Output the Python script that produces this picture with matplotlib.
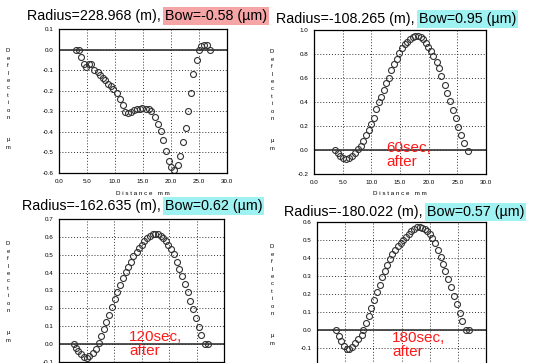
import matplotlib
matplotlib.use("Agg")
import matplotlib.pyplot as plt

plt.rcParams['font.family'] = ['Liberation Sans', 'DejaVu Sans']

W, H = 533, 363

# panel 1: before
x1 = [3.1, 3.5, 4.0, 4.5, 4.9, 5.3, 5.8, 6.3, 6.9, 7.3, 7.8, 8.2, 8.7, 9.2, 9.7, 10.3,
      10.9, 11.4, 11.8, 12.4, 12.9, 13.4, 14.0, 14.5, 14.9, 15.5, 16.0, 16.5, 17.1, 17.7,
      18.2, 18.6, 19.1, 19.6, 20.0, 20.6, 21.2, 21.6, 22.1, 22.6, 23.1, 23.6, 24.0, 24.6,
      25.0, 25.4, 25.9, 26.5, 27.0]
y1 = [0.0, 0.0, -0.036, -0.07, -0.085, -0.07, -0.07, -0.1, -0.11, -0.125, -0.14, -0.15,
      -0.165, -0.175, -0.19, -0.21, -0.24, -0.27, -0.305, -0.31, -0.305, -0.295, -0.29,
      -0.287, -0.285, -0.287, -0.29, -0.3, -0.33, -0.36, -0.395, -0.44, -0.495, -0.54,
      -0.57, -0.585, -0.56, -0.515, -0.45, -0.38, -0.3, -0.21, -0.12, -0.05, -0.003,
      0.016, 0.023, 0.02, -0.003]

# panel 2: 60 sec after
x2 = [3.6, 4.1, 4.55, 5.1, 5.6, 6.1, 6.65, 7.1, 7.65, 8.15, 8.6, 9.1, 9.6, 9.9, 10.4,
      10.8, 11.3, 11.7, 12.2, 12.6, 13.1, 13.5, 14.0, 14.4, 14.9, 15.4, 15.8, 16.2, 16.7,
      17.2, 17.6, 18.1, 18.6, 19.0, 19.5, 19.97, 20.4, 20.8, 21.4, 21.8, 22.2, 22.8, 23.2,
      23.7, 24.2, 24.7, 25.2, 25.6, 26.2, 26.85]
y2 = [0.0, -0.028, -0.047, -0.067, -0.078, -0.067, -0.05, -0.022, 0.006, 0.036, 0.072,
      0.122, 0.167, 0.214, 0.264, 0.339, 0.397, 0.444, 0.503, 0.556, 0.597, 0.664, 0.714,
      0.761, 0.806, 0.853, 0.883, 0.903, 0.925, 0.939, 0.95, 0.95, 0.942, 0.925, 0.894,
      0.861, 0.825, 0.783, 0.731, 0.681, 0.614, 0.544, 0.472, 0.406, 0.336, 0.264, 0.192,
      0.122, 0.056, -0.006]

# panel 3: 120 sec after
x3 = [2.7, 3.1, 3.5, 4.0, 4.5, 5.0, 5.5, 6.1, 6.7, 7.2, 7.6, 8.1, 8.6, 9.1, 9.6, 10.1,
      10.6, 11.1, 11.6, 12.1, 12.6, 13.1, 13.5, 14.1, 14.6, 15.1, 15.5, 16.0, 16.5, 17.0,
      17.5, 18.0, 18.5, 18.9, 19.4, 19.9, 20.4, 20.9, 21.4, 21.9, 22.4, 22.9, 23.4, 23.9,
      24.4, 24.9, 25.4, 25.9, 26.5, 27.0]
y3 = [0.0, -0.02, -0.04, -0.056, -0.071, -0.077, -0.066, -0.049, -0.028, 0.007, 0.047,
      0.082, 0.124, 0.161, 0.21, 0.255, 0.294, 0.331, 0.369, 0.404, 0.434, 0.462, 0.492,
      0.515, 0.535, 0.556, 0.576, 0.593, 0.604, 0.614, 0.618, 0.614, 0.606, 0.593, 0.576,
      0.556, 0.534, 0.502, 0.462, 0.423, 0.38, 0.337, 0.292, 0.243, 0.195, 0.147, 0.098,
      0.049, 0.0, 0.0]

# panel 4: 180 sec after
x4 = [3.4, 3.85, 4.3, 4.8, 5.3, 5.7, 6.2, 6.7, 7.2, 7.9, 8.2, 8.7, 9.2, 9.6, 10.1, 10.6,
      11.1, 11.5, 12.0, 12.5, 12.96, 13.4, 13.9, 14.4, 14.85, 15.3, 15.8, 16.3, 16.7, 17.2,
      17.7, 18.2, 18.6, 19.1, 19.6, 20.1, 20.5, 21.0, 21.5, 21.95, 22.4, 22.8, 23.3, 23.8,
      24.3, 24.8, 25.3, 25.8, 26.4, 27.0]
y4 = [0.0, -0.032, -0.061, -0.087, -0.106, -0.106, -0.093, -0.074, -0.052, -0.028, 0.0,
      0.037, 0.08, 0.123, 0.165, 0.21, 0.251, 0.292, 0.329, 0.362, 0.394, 0.423, 0.446,
      0.468, 0.485, 0.501, 0.518, 0.535, 0.55, 0.561, 0.57, 0.572, 0.568, 0.561, 0.548,
      0.531, 0.511, 0.485, 0.446, 0.407, 0.366, 0.329, 0.284, 0.238, 0.19, 0.145, 0.097,
      0.05, 0.0, 0.0]

radius = ["228.968", "-108.265", "-162.635", "-180.022"]
bow = ["-0.58", "0.95", "0.62", "0.57"]
notes = [None, "60sec,\nafter", "120sec,\nafter", "180sec,\nafter"]
ylims = [(-0.6, 0.1), (-0.2, 1.0), (-0.1, 0.7), (-0.2, 0.6)]
yticks_lo = [-0.6, -0.2, -0.1, -0.1]
ysteps = [0.1, 0.2, 0.1, 0.1]

# pixel boxes: left, right, top, bottom
boxes = [(59, 227, 29, 173), (314, 486, 30, 174), (59, 224, 219, 362), (317, 486, 222, 366)]
titles_at = [(163, 16), (417, 19), (163, 206), (425, 212)]
hl_colors = ["#f5a5a5", "#9ff2f2", "#9ff2f2", "#9ff2f2"]
ylab_x = [8, 272, 8, 272]
note_at = [None, (386, 141), (129, 330), (392, 331)]

fig = plt.figure(figsize=(W / 100, H / 100), dpi=100)
data = [(x1, y1), (x2, y2), (x3, y3), (x4, y4)]

for i, (xs, ys) in enumerate(data):
    l, r, t, b = boxes[i]
    ax = fig.add_axes([l / W, 1 - b / H, (r - l) / W, (b - t) / H])
    ax.plot(xs, ys, 'o', mfc='none', mec='#333333', ms=4.3, mew=0.8)
    ax.axhline(0, color='#222222', lw=1.1, zorder=0)
    lo, hi = ylims[i]
    ax.set_xlim(0, 30)
    ax.set_ylim(lo, hi)
    n = int(round((hi - yticks_lo[i]) / ysteps[i]))
    yt = [round(yticks_lo[i] + k * ysteps[i], 2) for k in range(n + 1)]
    ax.set_yticks(yt)
    ax.set_yticklabels([f"{v:.1f}" for v in yt])
    ax.set_xticks([0, 5, 10, 15, 20, 25, 30])
    ax.tick_params(length=0, labelsize=4.5, pad=4)
    ax.grid(True, color='#333333', linestyle=(0, (1, 2)), lw=0.7)
    for s in ax.spines.values():
        s.set_linewidth(0.9)
    if i < 2:
        ax.set_xticklabels(["0.0", "5.0", "10.0", "15.0", "20.0", "25.0", "30.0"])
        ax.set_xlabel("D i s t a n c e   m m", fontsize=4.5, labelpad=5)
    else:
        # lower row runs off the bottom of the picture
        ax.set_xticklabels([])

    tx, ty = titles_at[i]
    fig.text((tx - 2) / W, 1 - ty / H, f"Radius={radius[i]} (m),", ha='right',
             va='center', fontsize=10.3)
    fig.text((tx + 2) / W, 1 - ty / H, f"Bow={bow[i]} (\u00b5m)", ha='left',
             va='center', fontsize=10.3,
             bbox=dict(boxstyle='square,pad=0.12', fc=hl_colors[i], ec='none'))

    mid = (t + b) / 2 if i < 2 else t + 75
    fig.text(ylab_x[i] / W, 1 - (mid - 2) / H, "\n".join("Deflection  \u00b5m"),
             ha='center', va='center', fontsize=4.2, linespacing=1.6)

    if notes[i]:
        nx, ny = note_at[i]
        fig.text(nx / W, 1 - ny / H, notes[i], color='#ff1a1a', fontsize=11,
                 ha='left', va='top', linespacing=1.0)

fig.savefig("out.png", dpi=100)
